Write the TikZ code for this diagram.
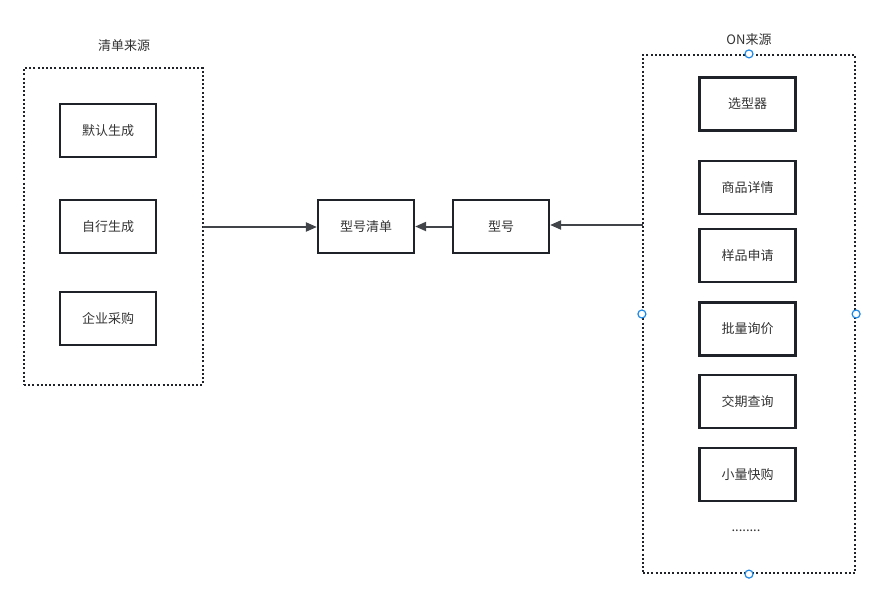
\documentclass[tikz,border=0pt]{standalone}
\usepackage{fontspec}
\setmainfont{Noto Sans CJK SC}
\usetikzlibrary{arrows.meta}
\definecolor{boxline}{HTML}{1F2329}
\definecolor{txt}{HTML}{333333}
\definecolor{handle}{HTML}{1E88E5}
\tikzset{
  item/.style={draw=boxline, line width=2.2pt, minimum width=96pt, minimum height=53pt, inner sep=0pt, text=txt, font=\fontsize{13pt}{15pt}\selectfont},
  group/.style={draw=boxline, line width=2.2pt, dash pattern=on 2pt off 2.2pt},
  lbl/.style={text=txt, font=\fontsize{13pt}{15pt}\selectfont},
  arr/.style={draw=boxline!85, line width=2pt, -{Triangle[length=11pt,width=9pt]}},
  hdl/.style={circle, draw=handle, fill=white, line width=1.2pt, minimum size=8pt, inner sep=0pt}
}
\begin{document}
\begin{tikzpicture}[x=1pt,y=-1pt]
\useasboundingbox (0,0) rectangle (888,597);
% left group
\node[group, minimum width=179pt, minimum height=317pt, inner sep=0pt] (lg) at (113.5,226.5) {};
\node[lbl] (lgl) at (124,46) {清单来源};
\node[item] (a1) at (108,130.5) {默认生成};
\node[item] (a2) at (108,226.5) {自行生成};
\node[item] (a3) at (108,318.5) {企业采购};
% right group
\node[group, minimum width=212pt, minimum height=518pt, inner sep=0pt] (rg) at (749,314) {};
\node[lbl] (rgl) at (749,40) {ON来源};
\node[item] (b1) at (747.5,104) {选型器};
\node[item] (b2) at (747.5,187.5) {商品详情};
\node[item] (b3) at (747.5,255.5) {样品申请};
\node[item] (b4) at (747.5,329) {批量询价};
\node[item] (b5) at (747.5,401.5) {交期查询};
\node[item] (b6) at (747.5,474.5) {小量快购};
\node[lbl] (dots) at (746,531) {........};
% middle
\node[item] (m1) at (366,226.5) {型号清单};
\node[item] (m2) at (501,226.5) {型号};
% connectors
\coordinate (lgE) at (203,227);
\coordinate (rgW) at (643,225);
\draw[arr] (lgE) -- (m1.west |- lgE);
\draw[arr] (m2.west) -- (m1.east);
\draw[arr] (rgW) -- (m2.east |- rgW);
% handles
\node[hdl] (h1) at (rg.north) {};
\node[hdl] (h2) at (rg.south) {};
\node[hdl] (h3) at (rg.west) {};
\node[hdl] (h4) at (rg.east) {};
\end{tikzpicture}
\end{document}
